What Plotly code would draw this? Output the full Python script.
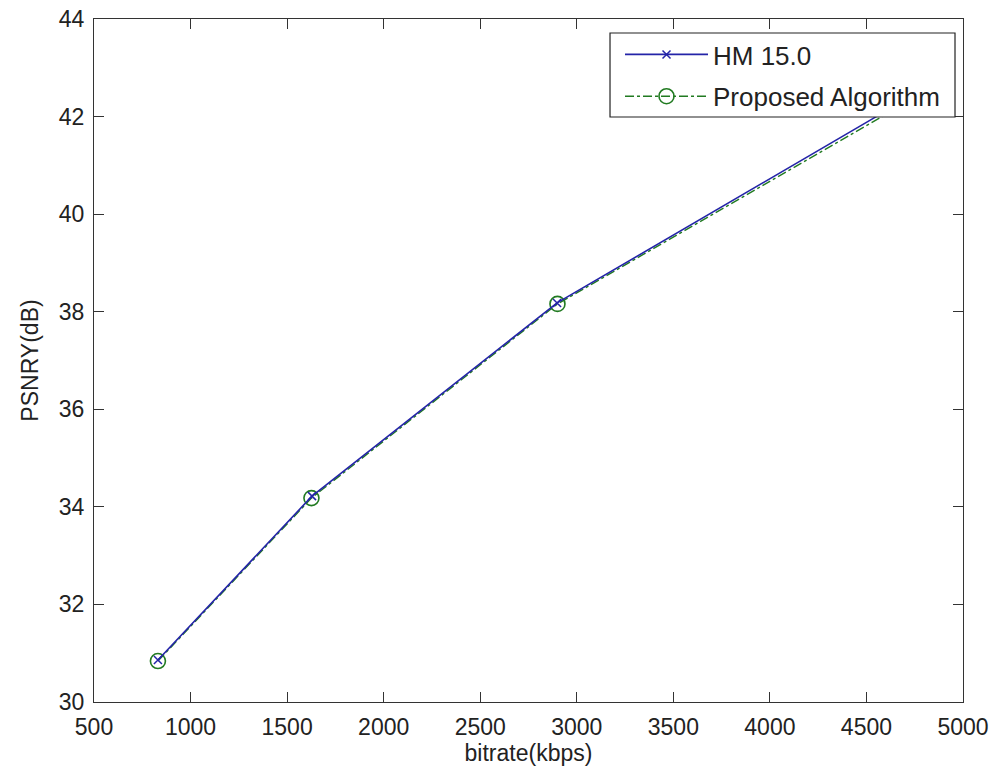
import plotly.graph_objects as go

# data
hm_bitrate = [831, 1629, 2898, 4850]
hm_psnr = [30.86, 34.22, 38.18, 42.69]
prop_bitrate = [831, 1626, 2900, 4860]
prop_psnr = [30.84, 34.18, 38.16, 42.64]

x_ticks = [500, 1000, 1500, 2000, 2500, 3000, 3500, 4000, 4500, 5000]
y_ticks = [30, 32, 34, 36, 38, 40, 42, 44]

FONT = "Liberation Sans, Arial, sans-serif"
BLUE = "#2424a8"
GREEN = "#217a21"

fig = go.Figure()
fig.add_trace(go.Scatter(
    x=prop_bitrate, y=prop_psnr, name="Proposed Algorithm", mode="lines+markers",
    legendgroup="b", legendrank=2,
    line=dict(color=GREEN, width=1.4, dash="dashdot"),
    marker=dict(symbol="circle-open", size=15, line=dict(color=GREEN, width=1.6)),
))
fig.add_trace(go.Scatter(
    x=hm_bitrate, y=hm_psnr, name="HM 15.0", mode="lines+markers",
    legendgroup="a", legendrank=1,
    line=dict(color=BLUE, width=1.6),
    marker=dict(symbol="x-thin", size=8, line=dict(color=BLUE, width=1.5)),
))

axis_common = dict(
    showgrid=False, zeroline=False, showline=True, linecolor="#333333", linewidth=1.2,
    mirror="ticks", ticks="inside", ticklen=10, tickcolor="#333333", tickwidth=1.2,
    tickfont=dict(family=FONT, size=23, color="#222222"), automargin=False,
    ticklabeloverflow="allow",
)

fig.update_layout(
    width=994, height=775,
    margin=dict(l=94, r=31, t=19, b=73),
    paper_bgcolor="white", plot_bgcolor="white",
    font=dict(family=FONT, color="#222222"),
    xaxis=dict(range=[500, 5000], tickvals=x_ticks, ticktext=[str(v) for v in x_ticks],
               title=dict(text="bitrate(kbps)", font=dict(family=FONT, size=23), standoff=3),
               ticklabelstandoff=4, **axis_common),
    yaxis=dict(range=[30, 44], tickvals=y_ticks, ticktext=[str(v) for v in y_ticks],
               title=dict(text="PSNRY(dB)", font=dict(family=FONT, size=23), standoff=13),
               ticklabelstandoff=4, **axis_common),
    legend=dict(
        x=0.6053, y=0.9824, xanchor="left", yanchor="top",
        bgcolor="rgba(0,0,0,0)", borderwidth=0,
        font=dict(family=FONT, size=26, color="#222222"),
        itemwidth=83, tracegroupgap=5, traceorder="grouped",
    ),
    shapes=[dict(type="rect", xref="paper", yref="paper",
                 x0=0.5938, x1=0.9908, y0=0.8565, y1=0.9795,
                 line=dict(color="#222222", width=1.2), fillcolor="white", layer="above")],
    showlegend=True,
)

# remove the default 8px page margin so the figure fills the window exactly
fig.write_html("out.html", config={"displayModeBar": False},
               post_script="document.body.style.margin='0';")
